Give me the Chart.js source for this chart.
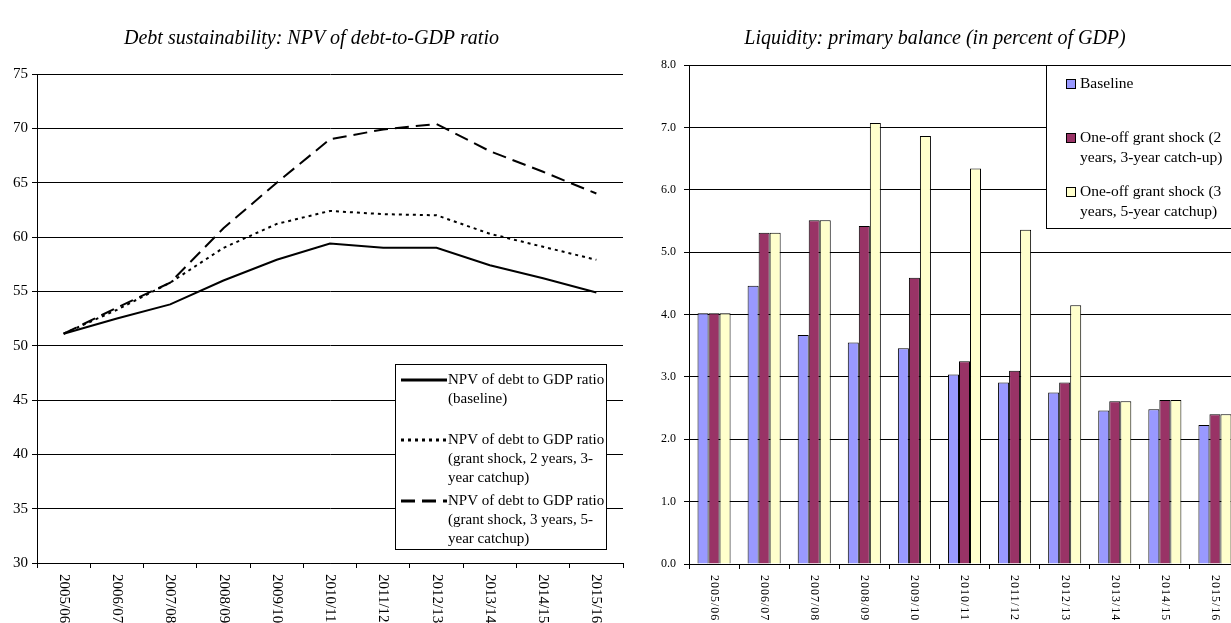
<!DOCTYPE html>
<html>
<head>
<meta charset="utf-8">
<script src="https://cdn.jsdelivr.net/npm/chart.js@4"></script>
<style>
  html, body { margin: 0; padding: 0; background: #fff; overflow: hidden; width: 1231px; height: 623px; }
  #wrapLeft { position: absolute; left: 0; top: 0; width: 630px; height: 623px; }
  #wrapRight { position: absolute; left: 630px; top: 0; width: 615px; height: 623px; }
</style>
</head>
<body>
<div id="wrapLeft"><canvas id="debtChart" width="630" height="623"></canvas></div>
<div id="wrapRight"><canvas id="liquidityChart" width="615" height="623"></canvas></div>
<script>
// categories
const years = ['2005/06', '2006/07', '2007/08', '2008/09', '2009/10', '2010/11',
               '2011/12', '2012/13', '2013/14', '2014/15', '2015/16'];

// left: NPV of debt-to-GDP ratio
const npvBaseline = [51.1, 52.5, 53.8, 56.0, 57.9, 59.4, 59.0, 59.0, 57.4, 56.2, 54.9];
const npvShock2   = [51.1, 53.3, 55.8, 59.0, 61.2, 62.4, 62.1, 62.0, 60.3, 59.1, 57.9];
const npvShock3   = [51.1, 53.5, 55.8, 60.8, 65.0, 69.0, 69.9, 70.4, 67.9, 66.0, 64.0];

// right: primary balance (percent of GDP)
const pbBaseline = [4.02, 4.46, 3.67, 3.55, 3.46, 3.04, 2.91, 2.75, 2.46, 2.48, 2.23];
const pbShock2   = [4.02, 5.31, 5.51, 5.42, 4.59, 3.25, 3.10, 2.91, 2.61, 2.63, 2.40];
const pbShock3   = [4.02, 5.31, 5.51, 7.07, 6.86, 6.34, 5.36, 4.15, 2.61, 2.63, 2.40];

// legend texts (wrapped as in the original)
const debtLegend = [
  ['NPV of debt to GDP ratio', '(baseline)'],
  ['NPV of debt to GDP ratio', '(grant shock, 2 years, 3-', 'year catchup)'],
  ['NPV of debt to GDP ratio', '(grant shock, 3 years, 5-', 'year catchup)']
];
const liquidityLegend = [
  ['Baseline'],
  ['One-off grant shock (2', 'years, 3-year catch-up)'],
  ['One-off grant shock (3', 'years, 5-year catchup)']
];

const serif = "'Liberation Serif', 'Times New Roman', serif";

// x labels rotated clockwise (read top to bottom)
function verticalLabels(size, spacing) {
  return {
    id: 'verticalLabels',
    afterDraw(chart) {
      const ctx = chart.ctx;
      const xs = chart.scales.x;
      ctx.save();
      ctx.font = size + 'px ' + serif;
      ctx.fillStyle = '#000';
      ctx.textAlign = 'left';
      ctx.textBaseline = 'middle';
      if ('letterSpacing' in ctx) ctx.letterSpacing = spacing;
      chart.data.labels.forEach((lab, i) => {
        ctx.save();
        ctx.translate(xs.getPixelForValue(i), chart.chartArea.bottom + 11);
        ctx.rotate(Math.PI / 2);
        ctx.fillText(lab, 0, 0);
        ctx.restore();
      });
      ctx.restore();
    }
  };
}

function boxLegend(cfg) {
  return {
    id: 'boxLegend',
    afterDraw(chart) {
      const ctx = chart.ctx;
      ctx.save();
      ctx.fillStyle = '#fff';
      ctx.fillRect(cfg.x, cfg.y, cfg.w, cfg.h);
      ctx.strokeStyle = '#000';
      ctx.lineWidth = 1;
      ctx.strokeRect(cfg.x + 0.5, cfg.y + 0.5, cfg.w, cfg.h);
      ctx.font = cfg.size + 'px ' + serif;
      ctx.textBaseline = 'middle';
      chart.data.datasets.forEach((ds, i) => {
        const y0 = cfg.rows[i];
        if (cfg.kind === 'line') {
          ctx.strokeStyle = ds.borderColor;
          ctx.lineWidth = ds.borderWidth + 1;
          ctx.setLineDash(ds.borderDash || []);
          ctx.beginPath();
          ctx.moveTo(cfg.markX, y0);
          ctx.lineTo(cfg.markX + cfg.markW, y0);
          ctx.stroke();
          ctx.setLineDash([]);
        } else {
          ctx.fillStyle = ds.backgroundColor;
          ctx.fillRect(cfg.markX, y0 - 5, 9, 9);
          ctx.strokeStyle = '#000';
          ctx.lineWidth = 1;
          ctx.strokeRect(cfg.markX + 0.5, y0 - 4.5, 9, 9);
        }
        ctx.fillStyle = '#000';
        cfg.lines[i].forEach((t, j) => ctx.fillText(t, cfg.textX, y0 + j * cfg.gap));
      });
      ctx.restore();
    }
  };
}

new Chart(document.getElementById('debtChart'), {
  type: 'line',
  data: {
    labels: years,
    datasets: [
      { label: debtLegend[0].join(' '), data: npvBaseline, borderColor: '#000', borderWidth: 2, pointRadius: 0, tension: 0 },
      { label: debtLegend[1].join(' '), data: npvShock2, borderColor: '#000', borderWidth: 2, borderDash: [3, 4], pointRadius: 0, tension: 0 },
      { label: debtLegend[2].join(' '), data: npvShock3, borderColor: '#000', borderWidth: 2, borderDash: [14, 7], pointRadius: 0, tension: 0 }
    ]
  },
  options: {
    responsive: false,
    animation: false,
    layout: { padding: { left: 0, right: 7, top: 0, bottom: 0 } },
    plugins: {
      legend: { display: false },
      tooltip: { enabled: false },
      title: {
        display: true,
        text: 'Debt sustainability: NPV of debt-to-GDP ratio',
        color: '#000',
        font: { family: serif, size: 20, style: 'italic', weight: 'normal' },
        padding: { top: 27, bottom: 23 }
      }
    },
    scales: {
      x: {
        offset: true,
        grid: { offset: true, drawOnChartArea: false, color: '#000', tickLength: 5 },
        border: { color: '#000' },
        ticks: { display: false },
        afterFit: (s) => { s.height = 60; }
      },
      y: {
        min: 30, max: 75,
        grid: { color: '#000', tickLength: 5 },
        border: { color: '#000' },
        ticks: { stepSize: 5, color: '#000', padding: 4, font: { family: serif, size: 15 } },
        afterFit: (s) => { s.width = 37; }
      }
    }
  },
  plugins: [
    verticalLabels(15, '0px'),
    boxLegend({ kind: 'line', x: 395, y: 364, w: 211, h: 185, rows: [380, 440, 501], gap: 19,
                markX: 401, markW: 46, textX: 448, size: 15, lines: debtLegend })
  ]
});

new Chart(document.getElementById('liquidityChart'), {
  type: 'bar',
  data: {
    labels: years,
    datasets: [
      { label: liquidityLegend[0].join(' '), data: pbBaseline, backgroundColor: '#9999FF', borderColor: '#000', borderWidth: 1 },
      { label: liquidityLegend[1].join(' '), data: pbShock2, backgroundColor: '#993366', borderColor: '#000', borderWidth: 1 },
      { label: liquidityLegend[2].join(' '), data: pbShock3, backgroundColor: '#FFFFCC', borderColor: '#000', borderWidth: 1 }
    ]
  },
  options: {
    responsive: false,
    animation: false,
    layout: { padding: { left: 0, right: 5, top: 0, bottom: 0 } },
    datasets: { bar: { barPercentage: 1.0, categoryPercentage: 0.66 } },
    plugins: {
      legend: { display: false },
      tooltip: { enabled: false },
      title: {
        display: true,
        text: 'Liquidity: primary balance (in percent of GDP)',
        color: '#000',
        font: { family: serif, size: 20, style: 'italic', weight: 'normal' },
        padding: { top: 27, bottom: 14 }
      }
    },
    scales: {
      x: {
        grid: { offset: true, drawOnChartArea: false, color: '#000', tickLength: 5 },
        border: { color: '#000' },
        ticks: { display: false },
        afterFit: (s) => { s.height = 59; }
      },
      y: {
        min: 0, max: 8,
        grid: { color: '#000', tickLength: 5 },
        border: { color: '#000' },
        ticks: { stepSize: 1, color: '#000', padding: 8, font: { family: serif, size: 12 },
                 callback: (v) => v.toFixed(1) },
        afterFit: (s) => { s.width = 59; }
      }
    }
  },
  plugins: [
    verticalLabels(12, '1px'),
    boxLegend({ kind: 'bar', x: 416, y: 65, w: 220, h: 163, rows: [84, 138, 192], gap: 20,
                markX: 436, markW: 9, textX: 450, size: 15.5, lines: liquidityLegend })
  ]
});
</script>
</body>
</html>
